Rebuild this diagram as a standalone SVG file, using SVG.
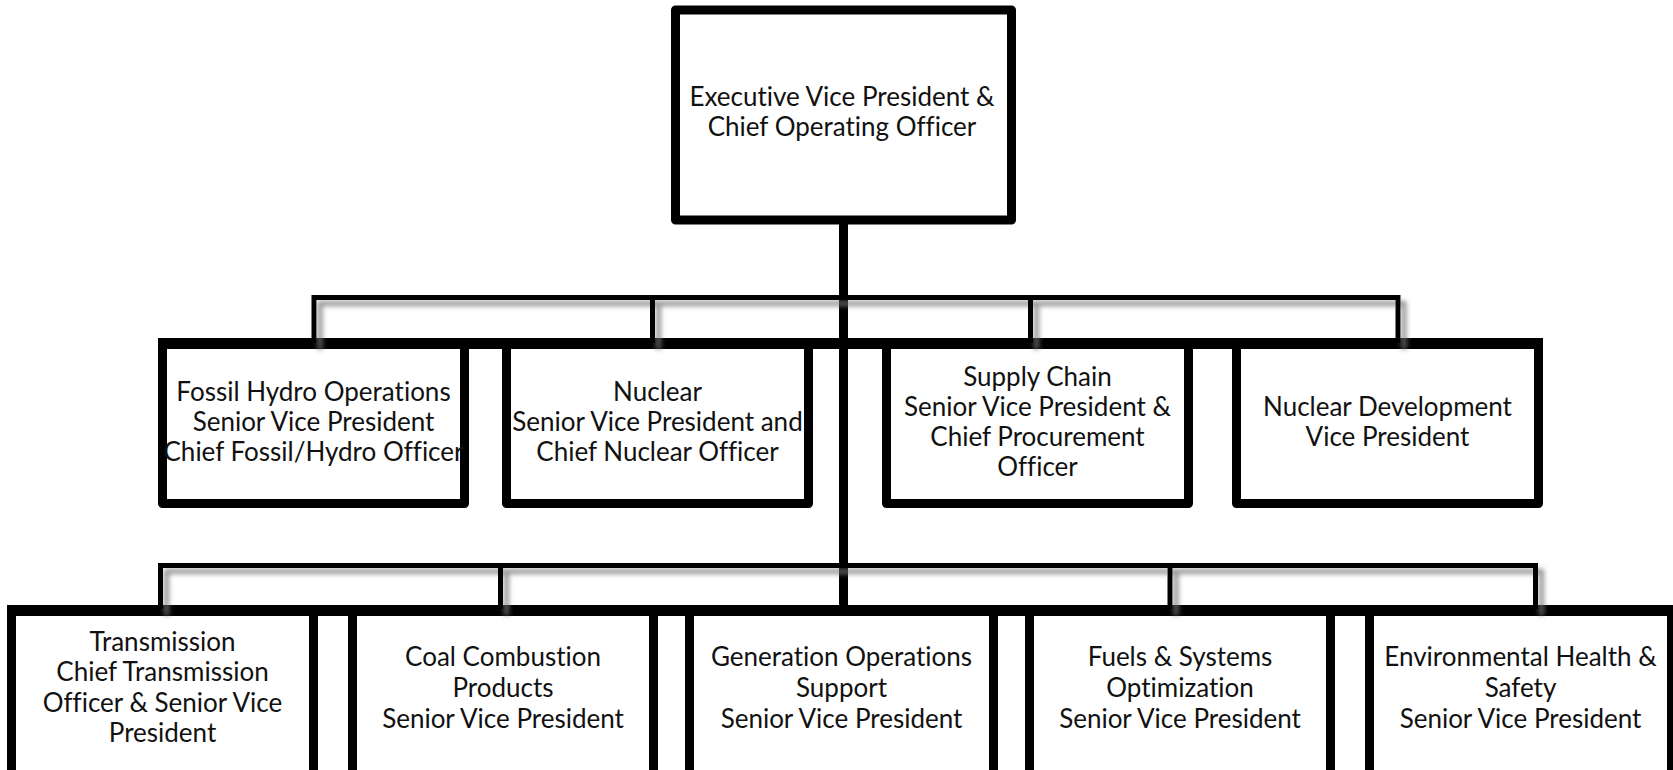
<svg xmlns="http://www.w3.org/2000/svg" width="1673" height="770" viewBox="0 0 1673 770">
<style>
.box{fill:#fff;stroke:#000;stroke-width:9;stroke-linejoin:round}
.lbl{font-family:Lato,"Liberation Sans",sans-serif;font-size:26px;fill:#111;text-anchor:middle;font-variant-ligatures:none}
.thin{stroke:#000;stroke-width:5;fill:none;stroke-linecap:square}
.thick{stroke:#000;stroke-width:11;fill:none}
.trunk{stroke:#000;stroke-width:9;fill:none}
</style>
<defs>
<filter id="sh" x="-5%" y="-50%" width="110%" height="200%">
<feDropShadow dx="6" dy="6" stdDeviation="2.5" flood-color="#777" flood-opacity="0.8"/>
</filter>
</defs>
<rect width="1673" height="770" fill="#fff"/>
<g id="n-evp"><rect class="box" x="675.5" y="10" width="336" height="210"/>
<text class="lbl" x="842" y="106">Executive Vice President &amp;</text>
<text class="lbl" x="842" y="136">Chief Operating Officer</text></g>
<g id="n-fossil"><rect class="box" x="162.5" y="343.5" width="302" height="160"/>
<text class="lbl" x="313.5" y="401">Fossil Hydro Operations</text>
<text class="lbl" x="313.5" y="431">Senior Vice President</text>
<text class="lbl" x="313.5" y="461">Chief Fossil/Hydro Officer</text></g>
<g id="n-nuclear"><rect class="box" x="506.5" y="343.5" width="302" height="160"/>
<text class="lbl" x="657.5" y="401">Nuclear</text>
<text class="lbl" x="657.5" y="431">Senior Vice President and</text>
<text class="lbl" x="657.5" y="461">Chief Nuclear Officer</text></g>
<g id="n-supply"><rect class="box" x="886.5" y="343.5" width="302" height="160"/>
<text class="lbl" x="1037.5" y="386">Supply Chain</text>
<text class="lbl" x="1037.5" y="416">Senior Vice President &amp;</text>
<text class="lbl" x="1037.5" y="446">Chief Procurement</text>
<text class="lbl" x="1037.5" y="476">Officer</text></g>
<g id="n-nucdev"><rect class="box" x="1236.5" y="343.5" width="302" height="160"/>
<text class="lbl" x="1387.5" y="416">Nuclear Development</text>
<text class="lbl" x="1387.5" y="446">Vice President</text></g>
<g id="n-trans"><rect class="box" x="11.5" y="611" width="302" height="200"/>
<text class="lbl" x="162.5" y="651">Transmission</text>
<text class="lbl" x="162.5" y="681">Chief Transmission</text>
<text class="lbl" x="162.5" y="712">Officer &amp; Senior Vice</text>
<text class="lbl" x="162.5" y="742">President</text></g>
<g id="n-coal"><rect class="box" x="352.5" y="611" width="301" height="200"/>
<text class="lbl" x="503" y="666">Coal Combustion</text>
<text class="lbl" x="503" y="697">Products</text>
<text class="lbl" x="503" y="728">Senior Vice President</text></g>
<g id="n-genops"><rect class="box" x="689.5" y="611" width="304" height="200"/>
<text class="lbl" x="841.5" y="666">Generation Operations</text>
<text class="lbl" x="841.5" y="697">Support</text>
<text class="lbl" x="841.5" y="728">Senior Vice President</text></g>
<g id="n-fuels"><rect class="box" x="1029.5" y="611" width="301" height="200"/>
<text class="lbl" x="1180" y="666">Fuels &amp; Systems</text>
<text class="lbl" x="1180" y="697">Optimization</text>
<text class="lbl" x="1180" y="728">Senior Vice President</text></g>
<g id="n-ehs"><rect class="box" x="1369.5" y="611" width="302" height="200"/>
<text class="lbl" x="1520.5" y="666">Environmental Health &amp;</text>
<text class="lbl" x="1520.5" y="697">Safety</text>
<text class="lbl" x="1520.5" y="728">Senior Vice President</text></g>
<g id="connectors">
<path class="trunk" d="M843.5 224V610"/>
<path class="thick" d="M158 343.5H1543M7 610.5H1673"/>
<g filter="url(#sh)">
<path class="thin" d="M314 341V297.5H1398V341M652.5 297.5V341M1030.5 297.5V341"/>
<path class="thin" d="M160.5 607V565.5H1535.5V607M500.5 565.5V607M1170 565.5V607"/>
</g>
</g>
</svg>
